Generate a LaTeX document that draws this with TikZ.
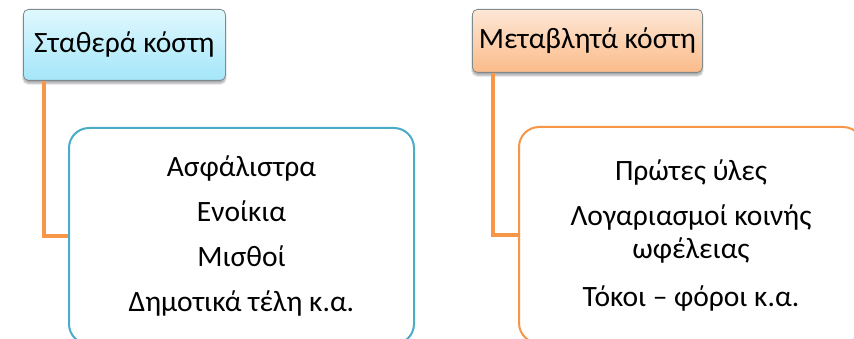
\documentclass[tikz,border=0pt]{standalone}
\usepackage{fontspec}
\setmainfont{Carlito}
\usetikzlibrary{shadows.blur}

\definecolor{tealline}{HTML}{4BACC6}
\definecolor{orangeline}{HTML}{F79646}
\definecolor{cyantop}{HTML}{E0F8FE}
\definecolor{cyanbot}{HTML}{A4E6F9}
\definecolor{peachtop}{HTML}{FDE7D6}
\definecolor{peachbot}{HTML}{FBBB89}
\definecolor{headborder}{HTML}{7F8A8E}

\tikzset{
  header/.style={draw=headborder, line width=0.8pt, rounded corners=5pt,
    anchor=north west, inner sep=0pt,
    font=\fontsize{29.5}{33}\selectfont,
    blur shadow={shadow xshift=0pt, shadow yshift=-3pt, shadow blur steps=6, shadow opacity=35}},
  listbox/.style={line width=2pt, rounded corners=20pt, fill=white,
    anchor=north west, inner sep=0pt, align=center,
    font=\fontsize{29.5}{33}\selectfont},
  link/.style={draw=orangeline, line width=4pt}
}

\begin{document}
\begin{tikzpicture}[x=1pt, y=-1pt]
\useasboundingbox (0,0) rectangle (854,339);
\begin{scope}
\clip (0,0) rectangle (854,339);

% fixed costs
\node[header, top color=cyantop, bottom color=cyanbot,
      minimum width=202pt, minimum height=71pt] (h1) at (23,9) {Σταθερά κόστη};
\node[listbox, draw=tealline, minimum width=345pt, minimum height=216pt] (b1) at (68,127)
  {Ασφάλιστρα\\[12pt] Ενοίκια\\[12pt] Μισθοί\\[12pt] Δημοτικά τέλη κ.α.};

% variable costs
\node[header, top color=peachtop, bottom color=peachbot,
      minimum width=230pt, minimum height=63pt] (h2) at (472,9) {Μεταβλητά κόστη};
\node[listbox, draw=orangeline, minimum width=344pt, minimum height=216pt] (b2) at (518,126)
  {Πρώτες ύλες\\[12pt] Λογαριασμοί κοινής\\ ωφέλειας\\[15pt] Τόκοι – φόροι κ.α.};

% connectors from headers to their lists
\coordinate (c1) at ([xshift=21pt]h1.south west);
\coordinate (c2) at ([xshift=21pt]h2.south west);
\draw[link] (c1) |- (b1.west);
\draw[link] (c2) |- (b2.west);
\end{scope}
\end{tikzpicture}
\end{document}
